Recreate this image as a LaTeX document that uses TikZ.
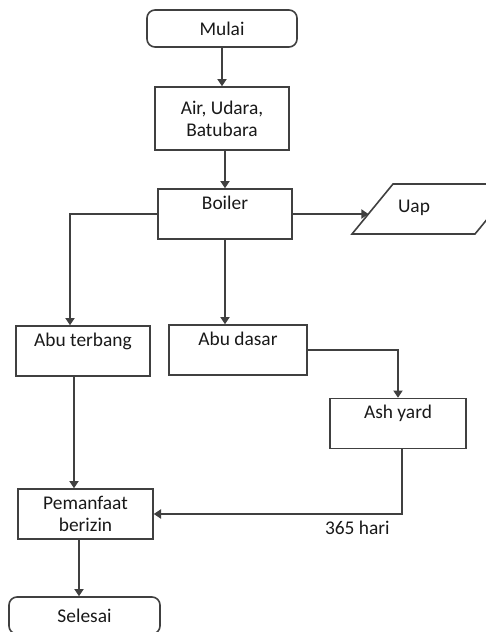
\documentclass[tikz,border=0pt]{standalone}
\usepackage{fontspec}
\setmainfont{Carlito}
\usetikzlibrary{arrows.meta}
\begin{document}
\begin{tikzpicture}[x=0.5pt,y=-0.5pt,line width=0.8pt,draw=black!75,>={Triangle[length=3.6pt,width=4.6pt]},
every node/.style={font=\fontsize{9.7}{11}\selectfont,text=black!90},
term/.style={draw,rounded corners=4pt,minimum width=75pt,minimum height=18.5pt,inner sep=0pt},
proc/.style={draw,minimum width=67pt,minimum height=25pt,inner sep=0pt,align=center},
topproc/.style={draw,minimum width=67pt,inner xsep=0pt,inner ysep=2pt,text height=8pt,text depth=13pt}]
\clip (0,0) rectangle (486,632);
\node[term] (mulai) at (222,28.5) {Mulai};
\node[proc,minimum height=31.5pt] (input) at (222,118.5) {Air, Udara,\\Batubara};
\node[topproc] (boiler) at (225,214) {Boiler};
\node[topproc] (terbang) at (83,351) {Abu terbang};
\node[topproc,minimum width=69pt] (dasar) at (238,350) {Abu dasar};
\node[topproc,minimum width=68pt] (ashyard) at (398,423.5) {Ash yard};
\node[proc,minimum width=67.5pt] (izin) at (85.5,514) {Pemanfaat\\berizin};
\node[term,minimum width=75.5pt] (selesai) at (84.5,615.5) {Selesai};
\draw (352,234) -- (393,184) -- (516,184) -- (475,234) -- cycle;
\node (uap) at (414,208) {Uap};
\coordinate (uapin) at (368.5,214);
\draw[->] (mulai) -- (input);
\draw[->] (input.south -| boiler) -- (boiler);
\draw[->] (boiler.east) -- (uapin);
\draw[->] (boiler.west) -| ([xshift=-6.5pt]terbang.north);
\draw[->] (boiler.south) -- (boiler.south |- dasar.north);
\draw[->] (dasar.east) -| (ashyard.north);
\draw[->] ([xshift=-4.5pt]terbang.south) -- ([xshift=-4.5pt]terbang.south |- izin.north);
\draw[->] ([xshift=2pt]ashyard.south) |- (izin.east) node[pos=0.59,below]{365 hari};
\draw[->] ([xshift=-3.25pt]izin.south) -- ([xshift=-3.25pt]izin.south |- selesai.north);
\end{tikzpicture}
\end{document}
